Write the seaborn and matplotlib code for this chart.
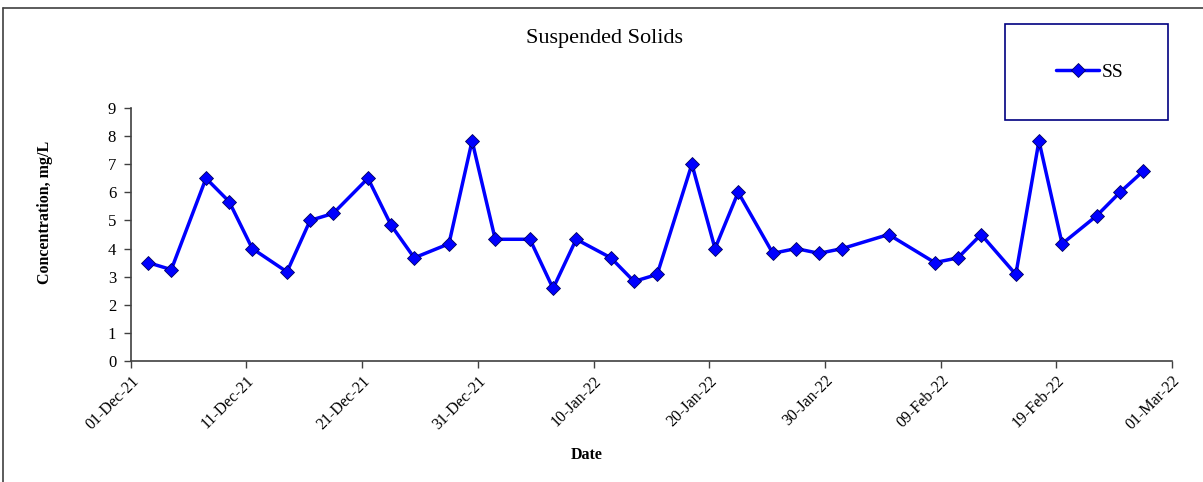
import numpy as np
import pandas as pd
import matplotlib
matplotlib.use('Agg')
import matplotlib.pyplot as plt
import matplotlib.dates as mdates
from matplotlib.lines import Line2D
from matplotlib.patches import Rectangle
import seaborn as sns

#  sampling dates and suspended solids readings (mg/L)
dates = ['2021-12-02', '2021-12-04', '2021-12-07', '2021-12-09', '2021-12-11',
         '2021-12-14', '2021-12-16', '2021-12-18', '2021-12-21', '2021-12-23',
         '2021-12-25', '2021-12-28', '2021-12-30', '2022-01-01', '2022-01-04',
         '2022-01-06', '2022-01-08', '2022-01-11', '2022-01-13', '2022-01-15',
         '2022-01-18', '2022-01-20', '2022-01-22', '2022-01-25', '2022-01-27',
         '2022-01-29', '2022-01-31', '2022-02-04', '2022-02-08', '2022-02-10',
         '2022-02-12', '2022-02-15', '2022-02-17', '2022-02-19', '2022-02-22',
         '2022-02-24', '2022-02-26']
ss = [3.5, 3.25, 6.5, 5.67, 4.0, 3.17, 5.0, 5.25, 6.5, 4.83,
      3.67, 4.17, 7.83, 4.33, 4.33, 2.58, 4.33, 3.67, 2.83, 3.08,
      7.0, 4.0, 6.0, 3.83, 4.0, 3.83, 4.0, 4.5, 3.5, 3.67,
      4.5, 3.08, 7.83, 4.17, 5.17, 6.0, 6.75]
y_ticks = list(range(0, 10))
x_start = '2021-12-01'
x_end = '2022-03-01'

#  points sit in the middle of each day on the date axis
df = pd.DataFrame({'Date': pd.to_datetime(dates) + pd.Timedelta(hours=12),
                   'SS': ss})

sns.set_style('white')
plt.rcParams['font.family'] = ['Liberation Serif', 'DejaVu Serif']
plt.rcParams['text.color'] = 'black'
plt.rcParams['axes.labelcolor'] = 'black'

fig = plt.figure(figsize=(12.03, 4.82), dpi=100)
ax = fig.add_axes([130.8 / 1203, 1 - 361 / 482, (1172 - 130.8) / 1203, (361 - 108) / 482])

sns.lineplot(data=df, x='Date', y='SS', ax=ax, color='#0000ff', linewidth=2.5,
             marker='D', markersize=7, markerfacecolor='#0000ff',
             markeredgecolor='#000060', markeredgewidth=0.6, label='SS')

ax.set_xlim(pd.Timestamp(x_start), pd.Timestamp(x_end))
ax.set_ylim(0, 9)
ax.set_yticks(y_ticks)
ax.set_xticks(pd.date_range(x_start, x_end, freq='10D'))
ax.xaxis.set_major_formatter(mdates.DateFormatter('%d-%b-%y'))

for side in ['top', 'right']:
    ax.spines[side].set_visible(False)
for side in ['left', 'bottom']:
    ax.spines[side].set_color('#404040')
    ax.spines[side].set_linewidth(1.2)

ax.tick_params(axis='both', direction='out', length=5, width=1, color='#404040',
               labelcolor='black', left=True, bottom=True)
ax.tick_params(axis='y', labelsize=12, pad=5.5)
ax.tick_params(axis='x', labelsize=11.5)
plt.setp(ax.get_xticklabels(), rotation=45, ha='right', rotation_mode='anchor')

ax.set_xlabel('Date', fontsize=11.5, fontweight='bold', va='center')
ax.xaxis.set_label_coords((587 - 130.8) / 1041.2, (361 - 455) / 253)
ax.set_ylabel('Concentration, mg/L', fontsize=11.5, fontweight='bold', va='center')
ax.yaxis.set_label_coords((45 - 130.8) / 1041.2, (361 - 212) / 253)
fig.text(605 / 1203, 1 - 38 / 482, 'Suspended Solids', fontsize=16,
         ha='center', va='center')

#  legend box drawn by hand like the spreadsheet one
ax.legend(loc='center', bbox_to_anchor=(1090 / 1203, 1 - 72 / 482),
          bbox_transform=fig.transFigure, frameon=False, fontsize=14,
          handlelength=2.2, handletextpad=0.15)
fig.patches.append(Rectangle((1005 / 1203, 1 - 120 / 482), 163 / 1203, 96 / 482,
                             transform=fig.transFigure, fill=False,
                             edgecolor='#000080', linewidth=1.2))

#  outer chart border (only top and left edges show in the picture)
fig.lines.append(Line2D([3 / 1203, 1.0], [1 - 8 / 482, 1 - 8 / 482],
                        transform=fig.transFigure, color='#404040', linewidth=1.2))
fig.lines.append(Line2D([3 / 1203, 3 / 1203], [0.0, 1 - 8 / 482],
                        transform=fig.transFigure, color='#404040', linewidth=1.2))

fig.savefig('out.png', dpi=100)
